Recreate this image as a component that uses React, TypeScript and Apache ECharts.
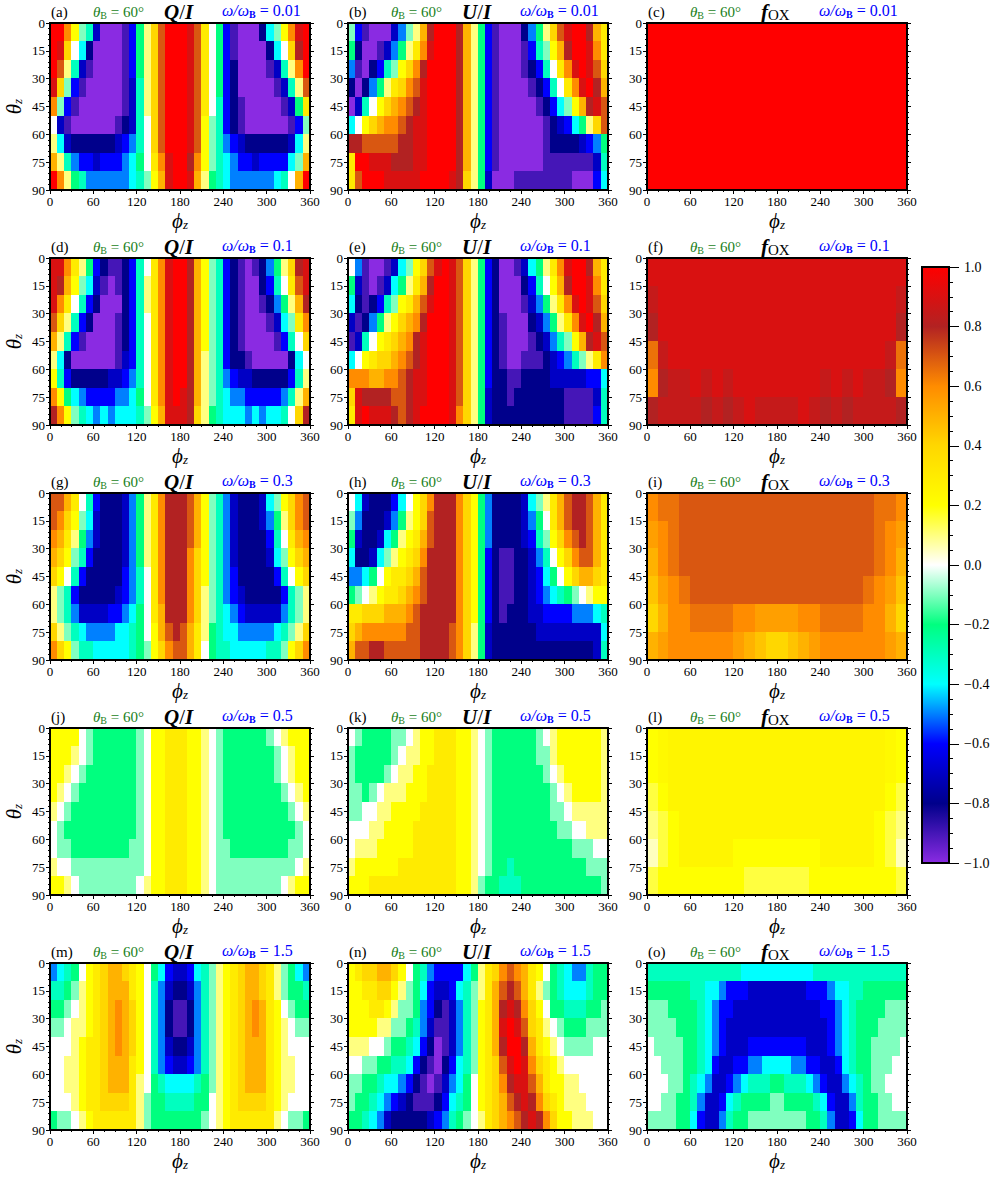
import React, { useEffect, useRef } from "react";
import * as echarts from "echarts";

// Values are in tenths. Rows run down theta from 0 to 90, columns run across phi from 0 to 360.
const phiTicks = [0, 60, 120, 180, 240, 300, 360];
const panelLetters = ["a","b","c","d","e","f","g","h","i","j","k","l","m","n","o"];
const omegaLabels = ["0.01","0.1","0.3","0.5","1.5"];

const qa = [
[10,10,6,2,-1,-3,-7,-10,-10,-10,-9,-6,-2,1,4,7,10,10,10,9,7,3,0,-2,-6,-9,-10,-10,-10,-8,-4,-1,2,6,9,10],
[10,9,4,0,-4,-8,-10,-10,-10,-10,-9,-6,-2,1,4,7,10,10,10,9,7,3,0,-2,-6,-9,-10,-10,-10,-10,-8,-4,0,4,8,10],
[10,7,1,-3,-7,-9,-10,-10,-10,-10,-9,-6,-2,1,4,7,10,10,10,9,7,3,0,-2,-6,-8,-10,-10,-10,-10,-9,-7,-3,1,6,10],
[9,4,-1,-6,-9,-10,-10,-10,-10,-10,-9,-7,-3,1,4,7,10,10,10,9,7,3,0,-2,-6,-8,-10,-10,-10,-10,-10,-9,-7,-3,1,7],
[6,-1,-6,-9,-10,-10,-10,-10,-10,-10,-9,-7,-3,1,4,7,10,10,10,9,7,3,0,-3,-6,-8,-9,-10,-10,-10,-10,-10,-9,-7,-2,3],
[0,-7,-9,-10,-10,-10,-10,-10,-10,-9,-8,-7,-3,0,4,7,10,10,10,9,7,2,-1,-3,-6,-8,-9,-10,-10,-10,-10,-10,-10,-9,-6,-1],
[1,-4,-7,-8,-8,-8,-8,-8,-8,-7,-6,-5,-3,0,4,7,10,10,10,9,7,2,-1,-3,-5,-6,-7,-8,-8,-8,-8,-8,-8,-7,-4,1],
[5,1,-3,-5,-6,-6,-7,-6,-6,-6,-5,-4,-2,0,3,6,9,10,10,8,6,2,-1,-3,-4,-5,-6,-6,-7,-6,-6,-6,-6,-4,-1,5],
[10,6,1,-2,-3,-5,-5,-5,-5,-5,-5,-4,-3,-1,2,5,9,10,10,9,5,1,-2,-3,-4,-5,-5,-5,-5,-5,-5,-4,-3,0,5,10],
];
const ub = [
[-1,-6,-9,-10,-10,-10,-7,-5,-1,1,5,8,10,10,10,8,5,1,-2,-6,-9,-10,-10,-10,-8,-5,-2,1,4,7,9,10,10,8,5,3],
[-2,-8,-10,-10,-9,-7,-5,-2,1,3,6,9,10,10,10,8,5,1,-2,-6,-9,-10,-10,-10,-9,-6,-3,-1,2,5,8,10,10,9,6,3],
[-5,-9,-10,-8,-6,-3,-1,2,4,6,8,10,10,10,10,8,5,1,-2,-6,-9,-10,-10,-10,-9,-8,-6,-3,0,3,6,9,10,9,7,4],
[-8,-10,-8,-5,-2,1,3,4,6,7,9,10,10,10,10,8,5,1,-2,-6,-9,-10,-10,-10,-10,-9,-8,-6,-3,0,3,6,9,10,8,5],
[-10,-7,-3,0,2,4,5,6,7,8,9,10,10,10,10,8,5,1,-2,-6,-9,-10,-10,-10,-10,-10,-9,-8,-6,-4,-1,2,5,8,9,7],
[-4,0,2,4,5,6,6,7,8,9,9,10,10,10,10,8,5,1,-2,-6,-9,-10,-10,-10,-10,-10,-10,-9,-8,-7,-6,-4,-2,1,4,7],
[8,8,7,7,7,7,7,8,8,9,9,10,10,10,10,8,5,1,-2,-6,-9,-10,-10,-10,-10,-10,-10,-9,-8,-8,-8,-8,-7,-6,-5,-2],
[3,10,10,9,9,9,8,8,8,9,9,10,10,10,10,8,5,1,-2,-6,-9,-10,-10,-10,-10,-10,-10,-9,-9,-9,-9,-9,-9,-9,-7,-3],
[3,7,10,10,10,9,9,9,9,9,10,10,10,10,9,8,4,1,-2,-7,-10,-10,-10,-9,-9,-9,-9,-9,-9,-9,-9,-10,-10,-10,-6,-4],
];
const fc = [
[10,10,10,10,10,10,10,10,10,10,10,10,10,10,10,10,10,10,10,10,10,10,10,10],
[10,10,10,10,10,10,10,10,10,10,10,10,10,10,10,10,10,10,10,10,10,10,10,10],
[10,10,10,10,10,10,10,10,10,10,10,10,10,10,10,10,10,10,10,10,10,10,10,10],
[10,10,10,10,10,10,10,10,10,10,10,10,10,10,10,10,10,10,10,10,10,10,10,10],
[10,10,10,10,10,10,10,10,10,10,10,10,10,10,10,10,10,10,10,10,10,10,10,10],
[10,10,10,10,10,10,10,10,10,10,10,10,10,10,10,10,10,10,10,10,10,10,10,10],
];
const qd = [
[9,9,6,3,1,-2,-6,-8,-9,-9,-8,-6,-3,0,3,6,9,10,10,8,5,2,-1,-3,-6,-8,-9,-10,-9,-8,-5,-2,1,4,8,9],
[9,8,5,2,-1,-4,-7,-9,-10,-9,-8,-6,-3,1,3,6,9,10,10,8,5,2,-1,-3,-6,-8,-9,-10,-10,-8,-6,-3,0,3,7,9],
[9,6,3,0,-3,-6,-8,-10,-10,-10,-8,-6,-3,1,3,6,9,10,10,8,5,2,-1,-3,-6,-8,-9,-10,-10,-9,-8,-5,-2,1,5,8],
[7,4,1,-3,-6,-8,-10,-10,-10,-9,-8,-6,-3,0,3,6,9,10,10,8,5,2,-1,-3,-6,-8,-9,-10,-10,-10,-9,-7,-4,-1,3,6],
[5,1,-3,-6,-9,-10,-10,-10,-10,-9,-8,-6,-3,0,3,6,9,10,10,8,5,2,-1,-3,-6,-8,-9,-10,-10,-10,-10,-9,-6,-3,0,4],
[1,-4,-8,-10,-10,-10,-10,-10,-10,-9,-7,-6,-3,0,3,6,9,10,10,8,5,1,-1,-3,-6,-8,-8,-9,-10,-10,-10,-10,-10,-8,-4,0],
[2,-3,-6,-8,-8,-8,-8,-8,-7,-7,-6,-5,-3,0,3,6,9,10,10,8,5,1,-1,-3,-5,-6,-7,-7,-8,-8,-8,-8,-8,-6,-3,1],
[6,2,-2,-4,-5,-6,-6,-6,-6,-5,-5,-4,-2,0,3,6,9,10,9,8,5,1,-1,-3,-4,-5,-5,-6,-6,-6,-6,-6,-5,-3,1,5],
[8,6,2,-1,-3,-4,-5,-4,-5,-4,-4,-4,-3,-1,2,5,9,9,9,8,4,1,-2,-3,-4,-4,-4,-5,-4,-5,-4,-4,-3,0,4,8],
];
const ue = [
[0,-5,-9,-10,-10,-9,-7,-4,-1,2,4,7,9,10,9,7,4,1,-2,-6,-8,-10,-10,-9,-7,-4,-2,1,3,6,9,10,10,8,5,3],
[-2,-7,-9,-10,-9,-7,-4,-2,1,3,5,8,10,10,9,7,4,1,-2,-6,-8,-10,-10,-10,-8,-6,-3,0,2,5,8,10,10,9,6,3],
[-4,-8,-9,-8,-6,-3,-1,2,3,5,7,9,10,10,9,7,4,1,-2,-6,-8,-10,-10,-10,-9,-7,-5,-2,1,3,6,9,10,9,7,4],
[-7,-9,-8,-5,-2,1,2,4,5,6,8,10,10,10,9,7,4,1,-2,-6,-8,-9,-10,-10,-10,-8,-7,-5,-2,1,3,6,9,10,8,5],
[-9,-7,-3,0,2,3,4,5,6,8,9,10,10,10,9,7,4,1,-2,-6,-8,-9,-10,-10,-10,-9,-8,-7,-5,-3,-1,2,5,8,9,7],
[-4,0,2,3,4,4,5,6,7,8,9,10,10,10,9,7,4,1,-2,-6,-8,-9,-10,-10,-9,-9,-9,-8,-7,-6,-5,-3,-1,1,3,6],
[6,6,6,5,5,6,6,7,8,9,9,10,10,10,9,7,4,1,-2,-6,-8,-8,-9,-9,-8,-8,-8,-8,-7,-7,-7,-7,-7,-6,-6,-4],
[4,9,8,8,8,8,7,7,8,9,9,10,10,10,9,7,4,1,-2,-7,-8,-8,-9,-8,-8,-8,-8,-8,-8,-8,-9,-9,-9,-9,-7,-3],
[3,9,10,9,9,9,8,7,8,9,10,10,10,10,9,6,4,1,-2,-7,-8,-8,-8,-8,-8,-8,-8,-8,-8,-8,-9,-9,-9,-9,-6,-3],
];
const ff = [
[9,9,9,9,9,9,9,9,9,9,9,9,9,9,9,9,9,9,9,9,9,9,9,9],
[8.5,9,9,9,9,9,9,9,9,9,9,9,9,9,9,9,9,9,9,9,9,9,9,8.5],
[8,9,9,9,9,9,9,9,9,9,9,9,9,9,9,9,9,9,9,9,9,9,9,8],
[6.5,8.5,9,9,9,9,9,9,9,9,9,9,9,9,9,9,9,9,9,9,9,9,8.5,6.5],
[6,8,8.5,8.5,9,8.5,9,8.5,9,9,9,9,9,9,9,9,8.5,9,8.5,9,8.5,8.5,8,6],
[8,8.5,8.5,8.5,8.5,8,8.5,8,8.5,9,8.5,8.5,8.5,8.5,9,8.5,8,8.5,8,8.5,8.5,8.5,8.5,8],
];
const qg = [
[7,7,5,3,0,-3,-6,-8,-8,-8,-7,-5,-2,1,3,6,8,8,8,7,5,2,-1,-3,-5,-7,-8,-8,-8,-7,-4,-1,2,4,6,7],
[7,6,4,2,-1,-4,-7,-8,-8,-8,-7,-5,-2,1,3,6,8,8,8,7,5,2,-1,-3,-5,-7,-8,-8,-8,-7,-5,-2,1,4,6,7],
[6,5,3,1,-2,-5,-7,-8,-8,-8,-7,-5,-2,1,3,6,8,8,8,7,5,2,-1,-3,-5,-7,-8,-8,-8,-8,-6,-3,0,3,5,6],
[5,4,2,-1,-3,-6,-8,-8,-8,-8,-7,-5,-2,1,3,6,8,8,8,6,4,2,-1,-3,-5,-7,-8,-8,-8,-8,-7,-4,-1,2,4,5],
[4,2,0,-3,-6,-8,-8,-8,-8,-8,-6,-5,-3,0,3,6,8,8,8,6,4,2,-1,-3,-5,-6,-8,-8,-8,-8,-8,-6,-3,0,2,4],
[1,-1,-3,-6,-8,-8,-8,-8,-8,-7,-6,-5,-3,0,3,6,8,8,8,6,4,1,-1,-3,-5,-6,-7,-8,-8,-8,-8,-8,-6,-3,-1,1],
[1,-1,-3,-5,-7,-7,-7,-7,-6,-6,-5,-4,-2,0,3,5,8,8,8,6,4,1,-1,-3,-4,-5,-6,-7,-7,-7,-7,-7,-5,-3,-1,1],
[4,1,-1,-3,-4,-5,-5,-5,-5,-4,-4,-3,-2,0,2,5,7,8,7,5,3,1,-2,-3,-4,-4,-5,-5,-5,-5,-5,-4,-3,-1,1,4],
[6,4,2,-1,-3,-3,-4,-4,-4,-4,-4,-3,-2,-1,2,4,6,7,7,5,3,0,-2,-3,-3,-4,-4,-4,-4,-4,-3,-3,-1,2,4,6],
];
const uh = [
[0,-4,-7,-8,-8,-8,-6,-4,0,2,4,6,8,8,8,6,4,2,-2,-5,-8,-8,-8,-8,-7,-4,-1,1,3,5,7,8,8,7,5,3],
[-1,-5,-8,-8,-8,-7,-5,-2,1,2,4,7,8,8,8,6,4,2,-2,-5,-8,-8,-8,-8,-7,-5,-2,0,3,5,7,8,8,7,5,3],
[-2,-7,-8,-8,-7,-4,-2,1,2,3,5,7,8,8,8,6,4,2,-2,-5,-8,-8,-8,-8,-7,-6,-3,-1,2,4,6,7,8,7,5,3],
[-4,-8,-8,-7,-4,-1,1,2,3,4,6,8,8,8,8,6,4,2,-2,-6,-8,-9,-9,-8,-8,-7,-5,-3,0,2,4,6,7,7,5,3],
[-5,-5,-4,-2,0,2,3,3,4,5,7,8,8,8,8,6,4,2,-2,-6,-8,-9,-9,-8,-8,-7,-6,-4,-2,0,2,4,5,5,4,3],
[-2,-1,0,1,2,3,3,4,5,6,7,8,8,8,8,6,4,2,-2,-6,-8,-9,-9,-8,-8,-7,-6,-5,-4,-3,-2,-1,0,1,2,2],
[3,3,4,4,4,5,5,5,6,7,8,8,8,8,8,6,4,2,-2,-6,-8,-9,-8,-8,-8,-7,-7,-6,-6,-6,-6,-5,-5,-5,-4,-3],
[4,5,6,6,6,6,6,6,7,7,8,8,8,8,7,6,4,1,-2,-7,-8,-8,-8,-8,-8,-8,-7,-7,-7,-7,-7,-7,-7,-7,-7,-4],
[5,7,7,8,8,7,7,7,7,7,8,8,8,8,7,6,4,1,-2,-7,-8,-8,-8,-8,-8,-8,-8,-8,-8,-8,-8,-8,-8,-8,-7,-3],
];
const fi = [
[6,6.5,6.5,7,7,7,7,7,7,7,7,7,7,7,7,7,7,7,7,7,7,6.5,6.5,6],
[5.5,6,6.5,7,7,7,7,7,7,7,7,7,7,7,7,7,7,7,7,7,7,6.5,6,5.5],
[5,6,6.5,7,7,7,7,7,7,7,7,7,7,7,7,7,7,7,7,7,7,6.5,6,5],
[4.5,5.5,6,6.5,7,7,7,7,7,7,7,7,7,7,7,7,7,7,7,7,6.5,6,5.5,4.5],
[4,5,6,6,6.5,6.5,6.5,6.5,6,6,5.5,5.5,5.5,5.5,6,6,6.5,6.5,6.5,6.5,6,6,5,4],
[5,5.5,6,6,6,6,6,6,5.5,5,4.5,4,4,4.5,5,5.5,6,6,6,6,6,6,5.5,5],
];
const qj = [
[2,2,2,2,0,-1,-2,-2,-2,-2,-2,-2,-1,0,2,2,3,3,3,2,2,1,0,-1,-2,-2,-2,-2,-2,-2,-1,0,1,2,2,2],
[2,2,2,1,0,-1,-2,-2,-2,-2,-2,-2,-1,0,2,2,3,3,3,2,2,1,0,-1,-2,-2,-2,-2,-2,-2,-2,-1,0,1,2,2],
[2,2,1,0,-1,-2,-2,-2,-2,-2,-2,-2,-1,0,2,2,3,3,3,2,2,1,0,-1,-2,-2,-2,-2,-2,-2,-2,-1,0,1,2,2],
[2,1,0,-1,-2,-2,-2,-2,-2,-2,-2,-2,-1,0,2,2,3,3,3,2,2,1,0,-1,-2,-2,-2,-2,-2,-2,-2,-2,-1,0,1,2],
[1,0,-1,-2,-2,-2,-2,-2,-2,-2,-2,-2,-1,0,2,2,3,3,3,2,2,1,0,-1,-2,-2,-2,-2,-2,-2,-2,-2,-2,-1,0,1],
[0,-1,-2,-2,-2,-2,-2,-2,-2,-2,-2,-2,-1,0,2,2,3,3,3,2,2,1,0,-1,-2,-2,-2,-2,-2,-2,-2,-2,-2,-2,-1,0],
[0,-1,-1,-2,-2,-2,-2,-2,-2,-2,-2,-1,-1,0,2,2,3,3,3,2,2,1,0,-1,-1,-2,-2,-2,-2,-2,-2,-2,-2,-1,-1,0],
[1,0,0,-1,-1,-1,-1,-1,-1,-1,-1,-1,-1,0,2,2,3,3,3,2,2,1,0,-1,-1,-1,-1,-1,-1,-1,-1,-1,-1,-1,0,1],
[2,2,1,0,-1,-1,-1,-1,-1,-1,-1,-1,0,1,2,2,3,3,3,2,2,1,0,-1,-1,-1,-1,-1,-1,-1,-1,-1,0,1,2,2],
];
const uk = [
[0,-1,-2,-2,-2,-2,-1,-1,0,1,2,2,3,3,3,2,2,1,0,-1,-2,-2,-2,-2,-2,-2,-1,0,1,2,2,2,2,2,2,1],
[-1,-2,-2,-2,-2,-2,-1,0,1,1,2,2,3,3,3,2,2,1,0,-1,-2,-2,-2,-2,-2,-2,-1,-1,1,2,2,2,2,2,2,1],
[-1,-2,-2,-2,-2,-1,0,1,1,2,2,3,3,3,3,2,2,1,0,-1,-2,-2,-2,-2,-2,-2,-2,-1,0,1,2,2,2,2,2,1],
[-1,-1,-2,-1,0,1,1,1,2,2,2,3,3,3,3,2,2,1,0,-1,-2,-2,-2,-2,-2,-2,-2,-2,-1,0,1,2,2,2,2,1],
[-1,-1,0,0,1,1,2,2,2,2,3,3,3,3,3,2,2,1,0,-1,-2,-2,-2,-2,-2,-2,-2,-2,-1,-1,0,1,1,1,1,1],
[0,0,0,1,1,2,2,2,2,3,3,3,3,3,3,2,2,1,0,-1,-2,-2,-2,-2,-2,-2,-2,-2,-2,-1,-1,0,0,1,1,1],
[0,1,1,1,2,2,2,2,2,3,3,3,3,3,3,2,2,1,0,-1,-2,-2,-2,-2,-2,-2,-2,-2,-2,-2,-2,-1,-1,-1,0,0],
[1,2,2,2,2,2,2,3,3,3,3,3,3,3,3,2,2,1,0,-1,-2,-2,-3,-2,-2,-2,-2,-2,-2,-2,-2,-2,-2,-1,-1,-1],
[2,2,2,3,3,3,3,3,3,3,3,3,3,3,3,2,2,1,-1,-2,-2,-3,-3,-3,-2,-2,-2,-2,-2,-2,-2,-2,-2,-2,-2,-1],
];
const fl = [
[2,2.3,2.5,2.5,2.5,2.5,2.5,2.5,2.5,2.5,2.5,2.5,2.5,2.5,2.5,2.5,2.5,2.5,2.5,2.5,2.5,2.5,2.3,2],
[2,2.3,2.5,2.5,2.5,2.5,2.5,2.5,2.5,2.5,2.5,2.5,2.5,2.5,2.5,2.5,2.5,2.5,2.5,2.5,2.5,2.5,2.3,2],
[1.5,2,2.5,2.5,2.5,2.5,2.5,2.5,2.5,2.5,2.5,2.5,2.5,2.5,2.5,2.5,2.5,2.5,2.5,2.5,2.5,2.5,2,1.5],
[1,1.5,2,2.5,2.5,2.5,2.5,2.5,2.5,2.5,2.5,2.5,2.5,2.5,2.5,2.5,2.5,2.5,2.5,2.5,2.5,2,1.5,1],
[0.5,1.5,2,2.5,2.5,2.5,2.5,2.5,2,2,2,2,2,2,2,2,2.5,2.5,2.5,2.5,2.5,2,1.5,0.5],
[1.5,2,2,2,2,2,2,2,2,1.5,1.5,1.5,1.5,1.5,1.5,2,2,2,2,2,2,2,2,1.5],
];
const qm = [
[-5,-4,-3,-2,0,2,3,4,5,5,4,3,2,0,-2,-4,-6,-7,-7,-6,-4,-3,-1,1,2,3,4,5,5,4,3,1,-1,-2,-4,-5],
[-3,-3,-2,-1,1,2,3,4,5,5,5,3,2,0,-3,-5,-7,-8,-8,-7,-5,-3,-1,1,2,3,4,5,5,4,3,1,-1,-2,-2,-3],
[-2,-2,-1,0,1,2,3,4,5,6,5,4,2,0,-3,-5,-8,-9,-9,-8,-5,-3,-1,1,2,3,4,5,6,5,3,2,0,-1,-2,-2],
[-1,-1,0,1,1,2,3,4,5,6,5,4,2,0,-3,-5,-8,-9,-9,-8,-5,-3,-1,1,2,3,4,5,6,5,3,2,1,0,-1,-1],
[0,0,0,1,2,3,3,4,5,6,5,4,2,0,-3,-5,-7,-8,-8,-7,-5,-3,-1,1,2,3,4,5,5,5,3,2,1,0,0,0],
[0,0,1,1,2,3,3,4,5,5,5,3,2,0,-3,-5,-6,-7,-7,-6,-5,-3,-1,1,2,3,4,5,5,5,3,2,1,1,0,0],
[0,0,1,1,2,3,3,4,5,5,5,3,1,0,-2,-3,-4,-4,-4,-4,-3,-2,-1,1,2,3,4,5,5,5,3,2,1,1,0,0],
[0,0,0,1,2,3,3,4,4,4,4,3,1,-1,-2,-2,-3,-3,-3,-3,-2,-2,0,1,2,3,4,4,4,4,3,2,1,0,0,0],
[-2,-1,-1,0,1,2,3,3,3,3,3,3,1,-1,-2,-2,-2,-2,-2,-2,-2,-1,0,1,2,3,3,3,3,3,3,1,0,-1,-1,-2],
];
const un = [
[2,3,4,4,5,5,4,2,0,-2,-3,-5,-6,-6,-6,-6,-4,-2,1,3,4,6,7,6,5,3,2,0,-2,-3,-4,-5,-5,-3,-2,-2],
[2,2,3,3,4,4,2,1,-1,-2,-4,-6,-7,-7,-6,-4,-3,-1,1,3,5,7,8,7,5,3,1,-1,-2,-3,-4,-4,-4,-3,-2,-2],
[2,2,2,3,3,2,1,-1,-1,-2,-5,-6,-8,-9,-7,-5,-3,-1,2,3,5,8,9,8,6,4,2,0,-2,-2,-3,-3,-3,-2,-2,-1],
[2,2,2,2,1,1,-1,-1,-2,-3,-5,-7,-9,-9,-7,-5,-3,-1,2,3,5,9,10,9,7,4,3,1,0,-1,-2,-2,-2,-1,-1,-1],
[1,1,1,0,0,-1,-2,-2,-3,-4,-6,-8,-10,-9,-7,-5,-3,-1,2,3,5,8,10,10,8,5,3,2,1,0,-1,-1,-1,-1,0,0],
[0,0,-1,-1,-2,-2,-3,-3,-4,-6,-8,-9,-10,-8,-6,-4,-3,-1,2,3,4,7,9,10,9,6,4,3,2,1,0,0,0,0,0,0],
[-1,-1,-2,-2,-3,-4,-4,-5,-6,-8,-9,-10,-9,-7,-5,-4,-2,0,2,3,4,6,8,9,9,7,5,3,2,2,1,1,0,0,0,0],
[-1,-2,-2,-3,-4,-5,-6,-7,-8,-9,-9,-9,-8,-6,-4,-3,-2,0,2,3,4,5,7,8,9,8,6,4,3,2,1,1,1,0,0,0],
[-2,-2,-3,-4,-5,-7,-8,-8,-8,-8,-8,-7,-6,-5,-3,-2,-1,0,1,3,4,5,6,7,8,9,8,6,4,2,2,1,1,1,0,0],
];
const fo = [
[-3,-3,-3,-3,-3,-3,-3,-3,-3,-3,-3,-3,-3,-4,-4,-4,-4,-4,-4,-4,-4,-4,-4,-3,-3,-3,-3,-3,-3,-3,-3,-3,-3,-3,-3,-3],
[-2,-2,-2,-2,-2,-2,-3,-3,-4,-4,-5,-6,-6,-6,-7,-7,-7,-7,-7,-7,-7,-7,-6,-6,-6,-5,-4,-4,-3,-3,-2,-2,-2,-2,-2,-2],
[-1,-1,-1,-2,-2,-2,-2,-3,-4,-5,-6,-6,-7,-7,-7,-7,-7,-7,-7,-7,-7,-7,-7,-7,-6,-6,-5,-4,-3,-2,-2,-2,-2,-1,-1,-1],
[-1,-1,-1,-1,-2,-2,-2,-3,-4,-5,-6,-7,-7,-7,-7,-7,-7,-7,-7,-7,-7,-7,-7,-7,-7,-6,-5,-4,-3,-2,-2,-2,-1,-1,-1,-1],
[0,-1,-1,-1,-1,-2,-2,-3,-4,-5,-6,-7,-7,-7,-6,-6,-6,-6,-6,-6,-6,-6,-7,-7,-7,-6,-5,-4,-3,-2,-2,-1,-1,-1,-1,0],
[0,0,-1,-1,-1,-2,-2,-3,-4,-6,-7,-7,-6,-6,-5,-5,-4,-4,-4,-4,-5,-5,-6,-6,-7,-7,-6,-4,-3,-2,-2,-1,-1,-1,0,0],
[0,0,0,-1,-1,-2,-3,-4,-5,-7,-7,-6,-5,-4,-3,-3,-3,-2,-2,-3,-3,-3,-4,-5,-6,-7,-7,-5,-4,-3,-2,-1,-1,0,0,0],
[0,0,-1,-1,-2,-2,-3,-5,-7,-7,-6,-4,-3,-2,-2,-2,-2,-1,-1,-2,-2,-2,-2,-3,-4,-6,-7,-7,-5,-3,-2,-2,-1,-1,0,0],
[-1,-1,-1,-1,-2,-2,-4,-6,-7,-7,-5,-3,-2,-2,-1,-1,-1,-1,-1,-1,-1,-1,-2,-2,-3,-5,-7,-7,-6,-4,-2,-2,-1,-1,-1,-1],
];

const panels = [qa, ub, fc, qd, ue, ff, qg, uh, fi, qj, uk, fl, qm, un, fo];
const colours = ["#8a2be2","#00008b","#0000ff","#00ffff","#00ff7f","#ffffff","#ffff00","#ffd700","#ff8c00","#b22222","#ff0000"];

const colLeft = [50, 348, 647];
const rowTop = [23, 258, 493, 728, 963];
const plotW = 260;
const plotH = 167;
const SERIF = "'Liberation Serif', serif";

const App = () => {
  const ref = useRef<HTMLDivElement>(null);
  useEffect(() => {
    const chart = echarts.init(ref.current!, null, { renderer: "svg" });
    const grid: any[] = [];
    const xAxis: any[] = [];
    const yAxis: any[] = [];
    const series: any[] = [];
    const title: any[] = [];
    const line = { show: true, onZero: false, lineStyle: { color: "#000", width: 1.6 } };
    const tick = { show: true, inside: false, length: 4, lineStyle: { color: "#000", width: 1.2 } };
    const minor = (n: number) => ({ show: true, splitNumber: n, length: 2, lineStyle: { color: "#000", width: 1 } });
    const label = { show: true, fontFamily: SERIF, fontSize: 13, color: "#000", margin: 5 };
    const rich = {
      g: { fontFamily: SERIF, fontSize: 15, color: "#1a7f1a" },
      gi: { fontFamily: SERIF, fontSize: 15, color: "#1a7f1a", fontStyle: "italic" },
      gs: { fontFamily: SERIF, fontSize: 10, color: "#1a7f1a", padding: [7, 0, 0, 0] },
      b: { fontFamily: SERIF, fontSize: 16, color: "#0000ff" },
      bi: { fontFamily: SERIF, fontSize: 16, color: "#0000ff", fontStyle: "italic" },
      bs: { fontFamily: SERIF, fontSize: 10, color: "#0000ff", fontWeight: "bold", padding: [7, 0, 0, 0] },
      k: { fontFamily: SERIF, fontSize: 21, color: "#000", fontStyle: "italic", fontWeight: "bold" },
      kn: { fontFamily: SERIF, fontSize: 21, color: "#000" },
      ks: { fontFamily: SERIF, fontSize: 15, color: "#000", padding: [6, 0, 0, 0] },
    };
    const addTitle = (text: string, left: number, top: number, extra: any = {}) =>
      title.push({ text, left, top, padding: 0, textStyle: { rich, fontFamily: SERIF, fontSize: 15, fontWeight: "normal", color: "#000", ...extra } });

    panels.forEach((values, i) => {
      const c = i % 3;
      const r = Math.floor(i / 3);
      const left = colLeft[c];
      const top = rowTop[r];
      grid.push({ left, top, width: plotW, height: plotH, containLabel: false });
      xAxis.push({ type: "category", gridIndex: i, data: values[0].map((_, k) => String(k)), show: false, boundaryGap: true });
      xAxis.push({
        type: "value", gridIndex: i, position: "bottom", min: phiTicks[0], max: phiTicks[6], interval: 60, z: 10,
        axisLine: line, axisTick: tick, minorTick: minor(4), axisLabel: label, splitLine: { show: false },
        name: "{a|\u03d5}{s|z}", nameLocation: "middle", nameGap: 20,
        nameTextStyle: { rich: {
          a: { fontFamily: SERIF, fontSize: 21, fontStyle: "italic", color: "#000" },
          s: { fontFamily: SERIF, fontSize: 13, fontStyle: "italic", color: "#000", padding: [7, 0, 0, 0] },
        } },
      });
      xAxis.push({
        type: "value", gridIndex: i, position: "top", min: 0, max: 360, interval: 60, z: 10,
        axisLine: line, axisTick: { show: false }, axisLabel: { show: false }, splitLine: { show: false },
      });
      yAxis.push({ type: "category", gridIndex: i, data: values.map((_, k) => String(k)), inverse: true, show: false, boundaryGap: true });
      yAxis.push({
        type: "value", gridIndex: i, position: "left", min: 0, max: 90, interval: 15, inverse: true, z: 10,
        axisLine: line, axisTick: tick, minorTick: minor(5), axisLabel: label, splitLine: { show: false },
        ...(c === 0 ? {
          name: "{a|\u03b8}{s|z}", nameLocation: "middle", nameGap: 26, nameRotate: 90,
          nameTextStyle: { rich: {
            a: { fontFamily: SERIF, fontSize: 21, fontStyle: "italic", color: "#000" },
            s: { fontFamily: SERIF, fontSize: 13, fontStyle: "italic", color: "#000", padding: [7, 0, 0, 0] },
          } },
        } : {}),
      });
      yAxis.push({
        type: "value", gridIndex: i, position: "right", min: 0, max: 90, interval: 15, inverse: true, z: 10,
        axisLine: line, axisTick: tick, minorTick: minor(5), axisLabel: { show: false }, splitLine: { show: false },
      });
      const data: number[][] = [];
      values.forEach((row, y) => row.forEach((v, x) => data.push([x, y, v / 10])));
      series.push({
        type: "heatmap", xAxisIndex: 3 * i, yAxisIndex: 3 * i, data, silent: true, progressive: 0,
        itemStyle: { borderWidth: 0 }, emphasis: { disabled: true },
      });
      addTitle(`(${panelLetters[i]})`, left + 1, top - 19, { fontSize: 15 });
      addTitle("{gi|\u03b8}{gs|B}{g| = 60\u00b0}", left + 43, top - 20);
      const head = c === 0 ? "{k|Q}{kn|/}{k|I}" : c === 1 ? "{k|U}{kn|/}{k|I}" : "{k|f}{ks|OX}";
      addTitle(head, left + 114, top - 22);
      addTitle(`{bi|\u03c9/\u03c9}{bs|B}{b| = ${omegaLabels[r]}}`, left + 172, top - 21);
    });

    // Colour bar axes
    const g = panels.length;
    grid.push({ left: 922, top: 267, width: 27, height: 596, containLabel: false });
    xAxis.push({ type: "value", gridIndex: g, position: "bottom", min: 0, max: 1, axisLine: line, axisTick: { show: false }, axisLabel: { show: false }, splitLine: { show: false }, z: 10 });
    xAxis.push({ type: "value", gridIndex: g, position: "top", min: 0, max: 1, axisLine: line, axisTick: { show: false }, axisLabel: { show: false }, splitLine: { show: false }, z: 10 });
    yAxis.push({ type: "value", gridIndex: g, position: "left", min: -1, max: 1, axisLine: line, axisTick: { show: false }, axisLabel: { show: false }, splitLine: { show: false }, z: 10 });
    yAxis.push({
      type: "value", gridIndex: g, position: "right", min: -1, max: 1, interval: 0.2, z: 10,
      axisLine: line, axisTick: { ...tick, length: 10 }, minorTick: { ...minor(4), length: 4 }, splitLine: { show: false },
      axisLabel: {
        show: true, fontFamily: SERIF, fontSize: 14, color: "#000", margin: 15,
        formatter: (v: number) => (v < -0.001 ? "\u2212" : "") + Math.abs(v).toFixed(1),
      },
    });

    chart.setOption({
      animation: false,
      backgroundColor: "#fff",
      title, grid, xAxis, yAxis, series,
      visualMap: {
        type: "continuous", min: -1, max: 1, seriesIndex: panels.map((_, i) => i), calculable: false, realtime: false,
        left: 922, top: 267, itemWidth: 27, itemHeight: 596, padding: 0, showLabel: false,
        inRange: { color: colours }, hoverLink: false,
      },
    });
    const svg = ref.current!.querySelector("svg");
    if (svg) svg.style.shapeRendering = "crispEdges";
    return () => chart.dispose();
  }, []);
  return <div ref={ref} style={{ position: "absolute", left: 0, top: 0, width: 997, height: 1178 }} />;
};

export default App;
